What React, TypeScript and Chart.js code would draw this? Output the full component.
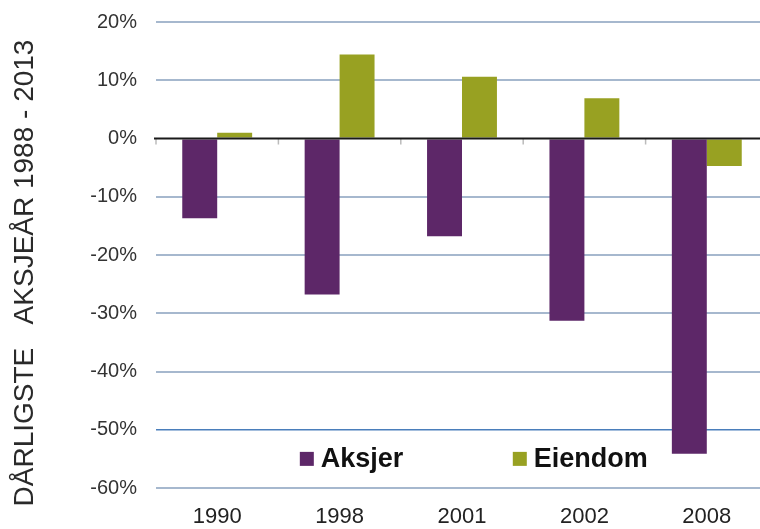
import React, { useEffect, useRef } from 'react';
import { Chart, registerables } from 'chart.js';

Chart.register(...registerables);

const categories = ['1990', '1998', '2001', '2002', '2008'];
const aksjer = [-13.7, -26.8, -16.8, -31.3, -54.1];
const eiendom = [1.0, 14.4, 10.6, 6.9, -4.7];
const seriesNames = ['Aksjer', 'Eiendom'];
const seriesColors = ['#5D2768', '#98A122'];
const yMin = -60;
const yMax = 20;
const yStep = 10;
const yTitle = 'DÅRLIGSTE   AKSJEÅR 1988 - 2013';

const FONT = '"Liberation Sans", Arial, Helvetica, sans-serif';

const decorPlugin = {
  id: 'decor',
  afterDatasetsDraw(chart: any) {
    const { ctx, chartArea, scales } = chart;
    const ys = scales.y;
    const xs = scales.x;
    const y0 = ys.getPixelForValue(0);
    const n = categories.length;
    const catW = xs.width / n;
    ctx.save();
    // category boundary tick marks on the zero axis
    ctx.strokeStyle = '#BBBBBB';
    ctx.lineWidth = 1.5;
    for (let i = 0; i <= n; i++) {
      const px = xs.left + i * catW;
      ctx.beginPath();
      ctx.moveTo(px, y0);
      ctx.lineTo(px, y0 + 6);
      ctx.stroke();
    }
    // zero line
    ctx.strokeStyle = '#1a1a1a';
    ctx.lineWidth = 2;
    ctx.beginPath();
    ctx.moveTo(chartArea.left - 2, y0);
    ctx.lineTo(chartArea.right, y0);
    ctx.stroke();

    // legend inside plot area
    const fracs = [0.235, 0.583];
    const ly = ys.getPixelForValue(-55);
    ctx.font = `bold 27px ${FONT}`;
    ctx.textBaseline = 'middle';
    ctx.textAlign = 'left';
    chart.data.datasets.forEach((ds: any, i: number) => {
      const sx = chartArea.left + fracs[i] * chartArea.width;
      ctx.fillStyle = ds.backgroundColor;
      ctx.fillRect(sx, ly - 7, 14, 14);
      ctx.fillStyle = '#111';
      ctx.fillText(ds.label, sx + 21, ly + 1);
    });

    // rotated axis title
    ctx.translate(25, (chartArea.top + chartArea.bottom) / 2 + 18);
    ctx.rotate(-Math.PI / 2);
    ctx.textAlign = 'center';
    ctx.textBaseline = 'middle';
    ctx.font = `28px ${FONT}`;
    ctx.fillStyle = '#2a2a2a';
    ctx.fillText(yTitle, 0, 0);
    ctx.restore();
  },
};

export default function App() {
  const ref = useRef<HTMLCanvasElement | null>(null);

  useEffect(() => {
    if (!ref.current) return;
    const chart = new Chart(ref.current, {
      type: 'bar',
      data: {
        labels: categories,
        datasets: [
          {
            label: seriesNames[0],
            data: aksjer,
            backgroundColor: seriesColors[0],
            borderWidth: 0,
          },
          {
            label: seriesNames[1],
            data: eiendom,
            backgroundColor: seriesColors[1],
            borderWidth: 0,
          },
        ],
      },
      options: {
        animation: false,
        responsive: false,
        devicePixelRatio: 1,
        layout: { padding: { top: 22, right: 4, bottom: 0, left: 0 } },
        datasets: {
          bar: { categoryPercentage: 0.571, barPercentage: 1.0 },
        },
        plugins: {
          legend: { display: false },
          tooltip: { enabled: false },
          title: { display: false },
        },
        scales: {
          x: {
            grid: { display: false, drawTicks: false },
            border: { display: false },
            ticks: {
              color: '#222',
              font: { family: FONT, size: 22 },
              padding: 16,
              maxRotation: 0,
            },
            afterFit(scale: any) {
              scale.height = 41;
            },
          },
          y: {
            min: yMin,
            max: yMax,
            grid: {
              drawTicks: false,
              color: (c: any) =>
                c.tick && c.tick.value === 0
                  ? 'rgba(0,0,0,0)'
                  : c.tick && c.tick.value === -50
                  ? '#4A7EBB'
                  : '#A6B8CE',
              lineWidth: (c: any) => (c.tick && c.tick.value === -50 ? 1.5 : 2),
            },
            border: { display: false },
            ticks: {
              stepSize: yStep,
              color: '#333',
              font: { family: FONT, size: 20 },
              padding: 19,
              callback: (v: any) => `${v}%`,
            },
            afterFit(scale: any) {
              scale.width = 156;
              scale.paddingTop = 0;
              scale.paddingBottom = 0;
            },
          },
        },
      },
      plugins: [decorPlugin],
    });
    return () => chart.destroy();
  }, []);

  return (
    <div
      style={{
        position: 'fixed',
        left: 0,
        top: 0,
        width: 760,
        height: 529,
        overflow: 'hidden',
        background: '#fff',
      }}
    >
      <canvas ref={ref} width={772} height={529} />
    </div>
  );
}
